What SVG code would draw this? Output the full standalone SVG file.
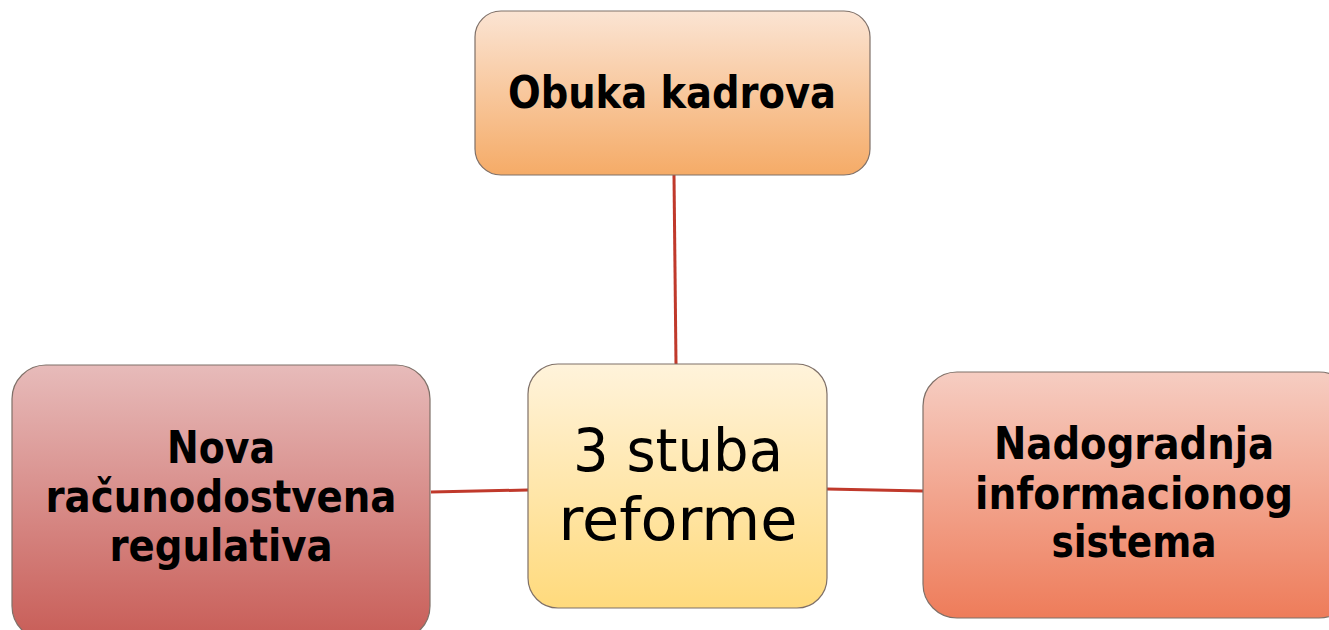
<svg xmlns="http://www.w3.org/2000/svg" width="1329" height="630" viewBox="0 0 1329 630">
<style>
.box{stroke:#7f7068;stroke-width:1.2}
.lbl{font-family:"DejaVu Sans Condensed","DejaVu Sans","Liberation Sans",sans-serif;font-weight:bold;font-size:44px;fill:#000;text-anchor:middle}
.ctr{font-family:"DejaVu Sans Condensed","DejaVu Sans","Liberation Sans",sans-serif;font-size:58px;fill:#000;text-anchor:middle}
.con{stroke:#c0392b;stroke-width:3;fill:none}
</style>
<defs>
<linearGradient id="gTop" x1="0" y1="0" x2="0" y2="1"><stop offset="0" stop-color="#fbe4d3"/><stop offset="1" stop-color="#f5ab67"/></linearGradient>
<linearGradient id="gCtr" x1="0" y1="0" x2="0" y2="1"><stop offset="0" stop-color="#fff3db"/><stop offset="1" stop-color="#ffda7c"/></linearGradient>
<linearGradient id="gLeft" x1="0" y1="0" x2="0" y2="1"><stop offset="0" stop-color="#e7bbba"/><stop offset="1" stop-color="#c85d57"/></linearGradient>
<linearGradient id="gRight" x1="0" y1="0" x2="0" y2="1"><stop offset="0" stop-color="#f6cdc2"/><stop offset="1" stop-color="#ee7c5a"/></linearGradient>
</defs>
<rect width="1329" height="630" fill="#fff"/>
<g id="connectors">
<line class="con" x1="674" y1="175" x2="676" y2="364"/>
<line class="con" x1="431" y1="492" x2="528" y2="490"/>
<line class="con" x1="827" y1="489" x2="923" y2="491"/>
</g>
<g id="node-top">
<rect class="box" x="475" y="11" width="395" height="164" rx="26" fill="url(#gTop)"/>
<text class="lbl" x="672" y="108" textLength="328" lengthAdjust="spacingAndGlyphs">Obuka kadrova</text>
</g>
<g id="node-center">
<rect class="box" x="528" y="364" width="299" height="244" rx="30" fill="url(#gCtr)"/>
<text class="ctr" x="678" y="471" textLength="210" lengthAdjust="spacingAndGlyphs">3 stuba</text>
<text class="ctr" x="678" y="540" textLength="239" lengthAdjust="spacingAndGlyphs">reforme</text>
</g>
<g id="node-left">
<rect class="box" x="12" y="365" width="418" height="275" rx="34" fill="url(#gLeft)"/>
<text class="lbl" x="221" y="463" textLength="108" lengthAdjust="spacingAndGlyphs">Nova</text>
<text class="lbl" x="221" y="512" textLength="351" lengthAdjust="spacingAndGlyphs">računodostvena</text>
<text class="lbl" x="221" y="561" textLength="223" lengthAdjust="spacingAndGlyphs">regulativa</text>
</g>
<g id="node-right">
<rect class="box" x="923" y="372" width="430" height="246" rx="34" fill="url(#gRight)"/>
<text class="lbl" x="1134" y="459" textLength="280" lengthAdjust="spacingAndGlyphs">Nadogradnja</text>
<text class="lbl" x="1134" y="509" textLength="318" lengthAdjust="spacingAndGlyphs">informacionog</text>
<text class="lbl" x="1134" y="557" textLength="165" lengthAdjust="spacingAndGlyphs">sistema</text>
</g>
</svg>
